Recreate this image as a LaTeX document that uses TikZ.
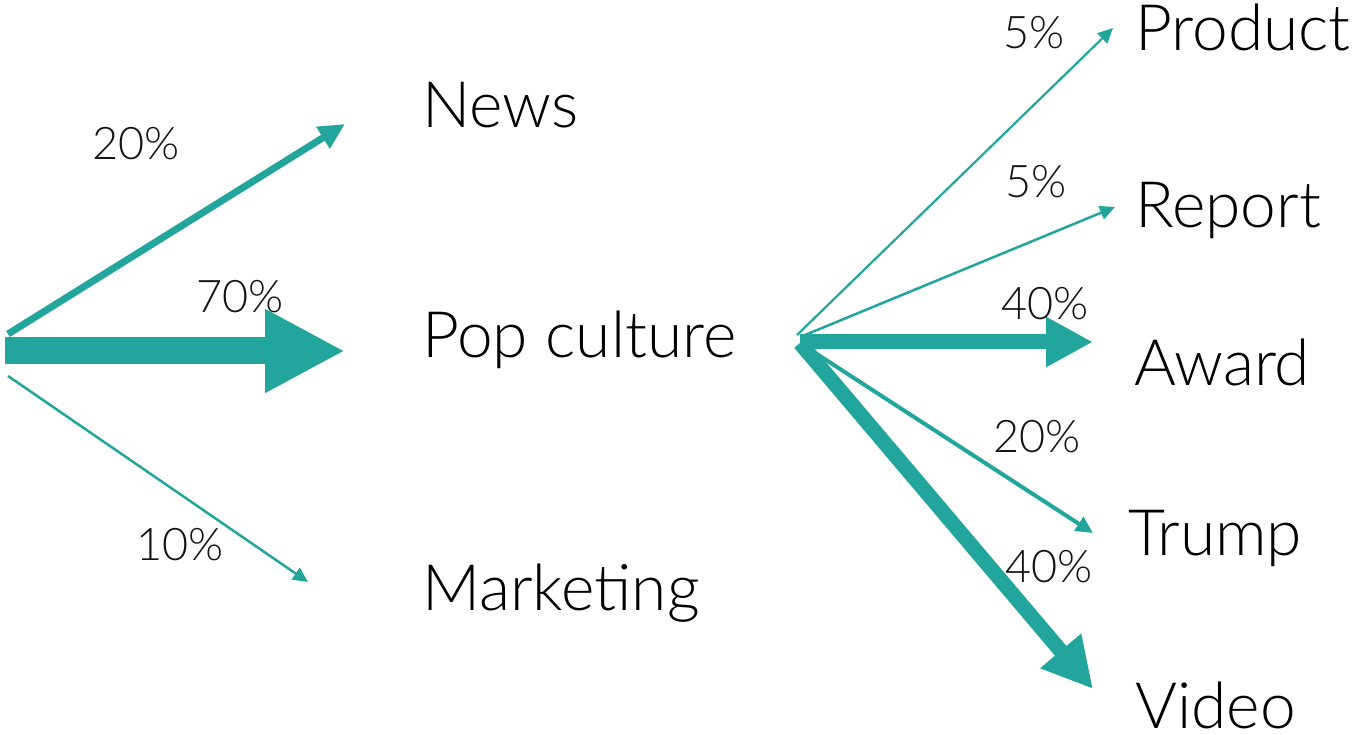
\documentclass[tikz,border=0pt]{standalone}
\usepackage{fontspec}
\setmainfont{Lato Light}
\usetikzlibrary{arrows.meta}
\definecolor{teal}{HTML}{21A59C}
\tikzset{
  big/.style={font=\fontsize{64}{70}\selectfont, anchor=base west, inner sep=0pt},
  pct/.style={font=\fontsize{45}{50}\selectfont, anchor=base west, inner sep=0pt, text=black!92},
  flow/.style={draw=teal, line cap=butt},
}
\begin{document}
\begin{tikzpicture}[x=1pt,y=-1pt]
\useasboundingbox (0,0) rectangle (1358,735);
% category nodes
\node[big] (news) at (422,128) {News};
\node[big] (pop) at (422,358) {Pop culture};
\node[big] (mkt) at (422,610) {Marketing};
\node[big] (prod) at (1135,51) {Product};
\node[big] (rep) at (1135,228) {Report};
\node[big] (award) at (1134,385) {Award};
\node[big] (trump) at (1128,555) {Trump};
\node[big] (video) at (1135,728) {Video};
% sources and targets
\coordinate (s1) at (8,334);
\coordinate (s2) at (5,351);
\coordinate (s3) at (8,376);
\coordinate (tnews) at (345,124);
\coordinate (tpop) at (345,351);
\coordinate (tmkt) at (308,582);
\coordinate (r1) at (797,335);
\coordinate (r2) at (805,335);
\coordinate (r3) at (800,342);
\coordinate (r4) at (803,345);
\coordinate (r5) at (800,343);
\coordinate (tprod) at (1113,28);
\coordinate (trep) at (1115,207);
\coordinate (taward) at (1093,342);
\coordinate (ttrump) at (1093,533);
\coordinate (tvideo) at (1093,689);
% arrows
\draw[flow, line width=7, -{Triangle[length=26, width=24]}] (s1) -- (tnews);
\draw[flow, line width=27, -{Triangle[length=80, width=78]}] (s2) -- (tpop);
\draw[flow, line width=2.5, -{Triangle[length=15, width=14]}] (s3) -- (tmkt);
\draw[flow, line width=2.2, -{Triangle[length=15, width=14]}] (r1) -- (tprod);
\draw[flow, line width=2.5, -{Triangle[length=15, width=14]}] (r2) -- (trep);
\draw[flow, line width=15, -{Triangle[length=47, width=47]}] (r3) -- (taward);
\draw[flow, line width=4, -{Triangle[length=17, width=16]}] (r4) -- (ttrump);
\draw[flow, line width=15, -{Triangle[length=50, width=50]}] (r5) -- (tvideo);
% percentages
\node[pct] (p20) at (92,160) {20\%};
\node[pct] (p70) at (196,313) {70\%};
\node[pct] (p10) at (136,560) {10\%};
\node[pct] (p5a) at (1003,49) {5\%};
\node[pct] (p5b) at (1005,198) {5\%};
\node[pct] (p40a) at (1001,320) {40\%};
\node[pct] (p20b) at (993,452) {20\%};
\node[pct] (p40b) at (1005,582) {40\%};
\end{tikzpicture}
\end{document}
